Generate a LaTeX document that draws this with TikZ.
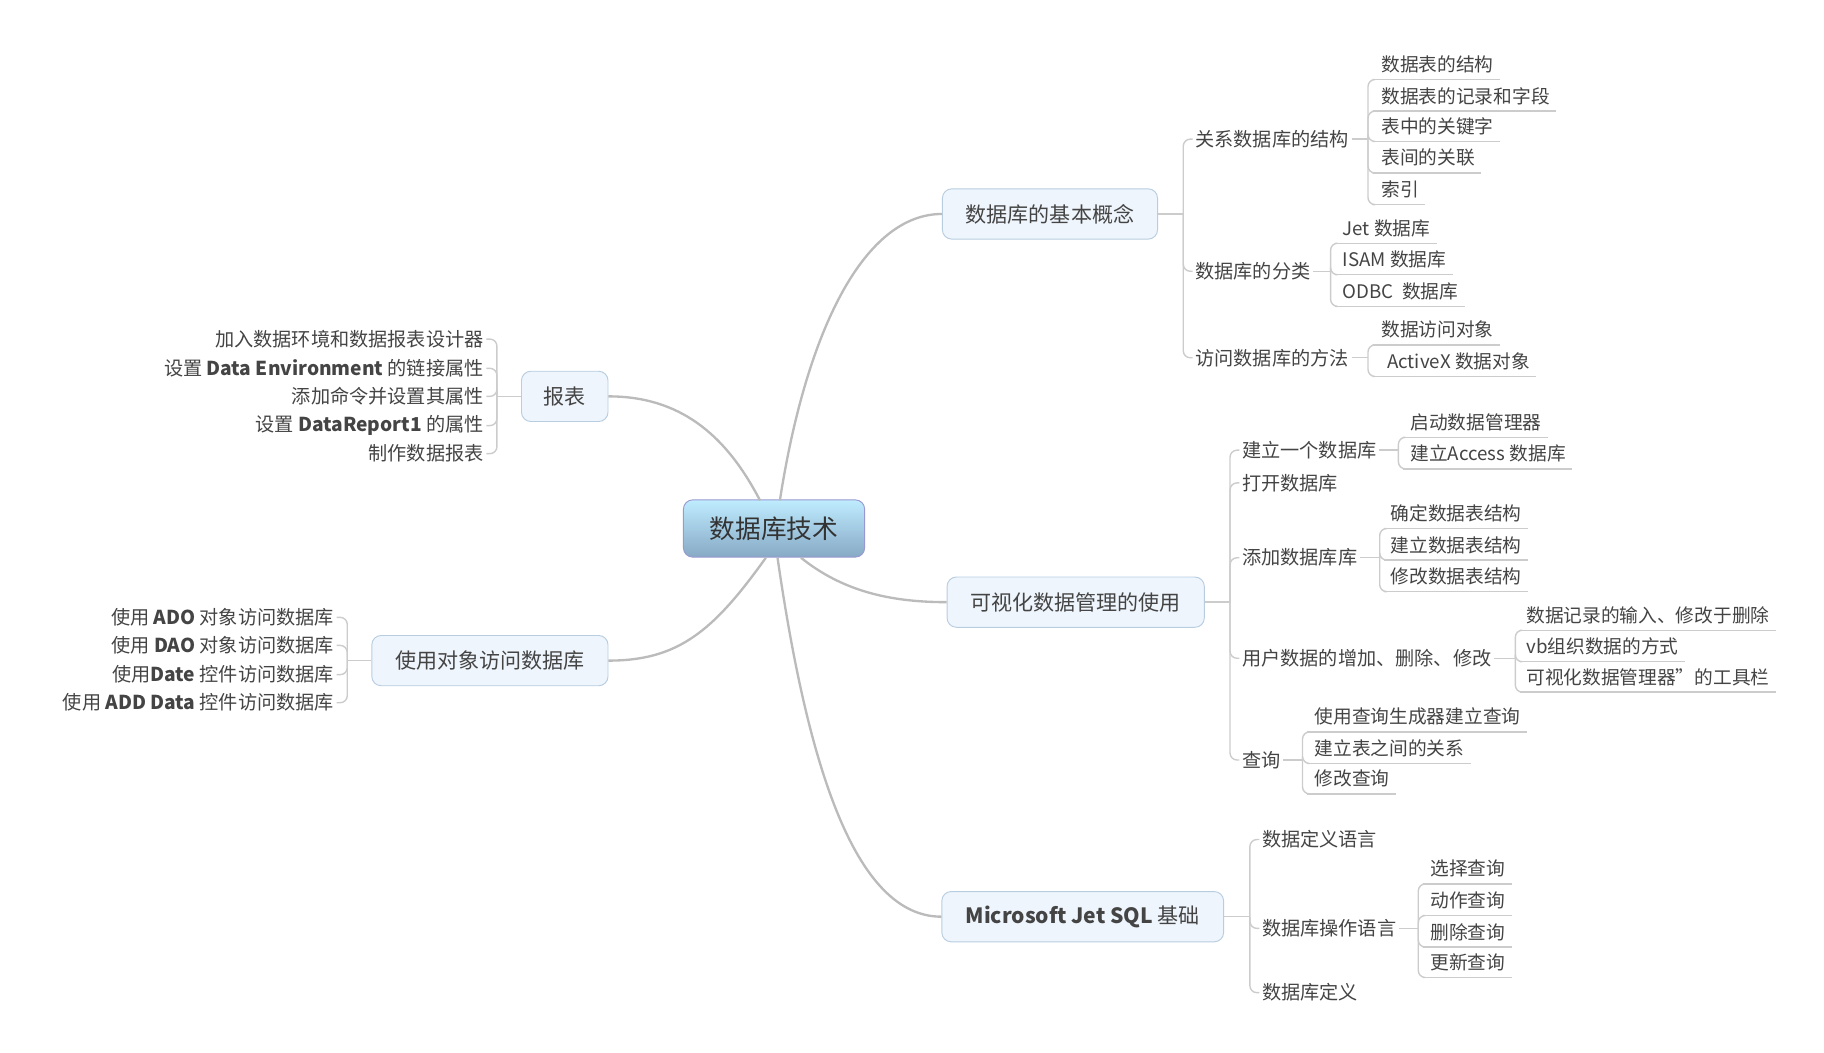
\documentclass[tikz,border=0pt]{standalone}
\usepackage{fontspec}
\setmainfont{Noto Sans CJK SC}
\usetikzlibrary{calc}
\definecolor{txt}{HTML}{444444}
\definecolor{bfill}{HTML}{EEF5FC}
\definecolor{bdraw}{HTML}{B8CDE0}
\definecolor{lnk}{HTML}{BBBBBB}
\definecolor{brc}{HTML}{CCCCCC}
\tikzset{
 leaf/.style={inner sep=0pt,text=txt,font=\fontsize{8}{9}\selectfont},
 sub/.style={inner sep=1pt,text=txt,font=\fontsize{8.2}{9}\selectfont},
 box/.style={draw=bdraw,fill=bfill,rounded corners=4pt,text=txt,font=\fontsize{9}{10}\selectfont,inner sep=0pt,minimum height=21.5pt},
 root/.style={draw=black!45!blue!40,rounded corners=4pt,top color=blue!30!cyan!25!white,bottom color=blue!45!cyan!35!gray!70,text=black!80,font=\fontsize{11}{12}\selectfont,inner sep=0pt,minimum height=24.5pt,minimum width=77.5pt},
 main/.style={draw=lnk,line width=1pt},
 br/.style={draw=brc,line width=0.6pt,rounded corners=3pt},
 ul/.style={draw=brc,line width=0.6pt},
}
\newcommand\mmleaf[6]{%
 \node[leaf,anchor=west] (#1) at (#2,#3) {#4};
 \coordinate (#1u) at (#5+4,#3+13);
 \draw[ul] (#1u) -- ($(#1u -| #1.east)+(5,0)$);
 \draw[br] (#5,#6) |- (#1u);}
\newcommand\mmsub[6]{%
 \node[sub,anchor=west] (#1) at (#2,#3) {#4};
 \draw[br] (#5,#6) |- (#1.west);}
\newcommand\mmsubL[6]{%
 \node[sub,anchor=east] (#1) at (#2,#3) {#4};
 \draw[br] (#5,#6) |- (#1.east);}
\begin{document}
\begin{tikzpicture}[x=0.5pt,y=-0.5pt]
\useasboundingbox (0,0) rectangle (1560,900);
\node[root] (c) at (662,452) {数据库技术};
\node[box,minimum width=92pt] (b1) at (898,183) {数据库的基本概念};
\node[box,minimum width=37pt] (b2) at (483,339) {报表};
\node[box,minimum width=110pt] (b3) at (920,515) {可视化数据管理的使用};
\node[box,minimum width=101pt] (b4) at (419,565) {使用对象访问数据库};
\node[box,minimum width=120.5pt] (b5) at (926,784) {\textbf{Microsoft Jet SQL} 基础};
\coordinate (c1) at (667,428); \coordinate (c2) at (650,428);
\coordinate (c3) at (685,477); \coordinate (c4) at (655,477); \coordinate (c5) at (665,477);
\draw[main] (c1) .. controls (690,280) and (740,183) .. (b1.west);
\draw[main] (c2) .. controls (620,370) and (580,339) .. (b2.east);
\draw[main] (c3) .. controls (720,505) and (760,515) .. (b3.west);
\draw[main] (c4) .. controls (610,540) and (580,565) .. (b4.east);
\draw[main] (c5) .. controls (690,650) and (730,784) .. (b5.west);
% group 1
\draw[br] (b1.east) -- (1012,183);
\mmsub{s11}{1020}{119}{关系数据库的结构}{1012}{183}
\mmsub{s12}{1020}{232}{数据库的分类}{1012}{183}
\mmsub{s13}{1020}{306}{访问数据库的方法}{1012}{183}
\draw[br] (s11.east) -- (1170,119);
\mmleaf{l111}{1181}{55}{数据表的结构}{1170}{119}
\mmleaf{l112}{1181}{82}{数据表的记录和字段}{1170}{119}
\mmleaf{l113}{1181}{108}{表中的关键字}{1170}{119}
\mmleaf{l114}{1181}{135}{表间的关联}{1170}{119}
\mmleaf{l115}{1181}{162}{索引}{1170}{119}
\draw[br] (s12.east) -- (1138,232);
\mmleaf{l121}{1148}{195}{Jet 数据库}{1138}{232}
\mmleaf{l122}{1148}{222}{ISAM 数据库}{1138}{232}
\mmleaf{l123}{1148}{249}{ODBC\ \ 数据库}{1138}{232}
\draw[br] (s13.east) -- (1170,306);
\mmleaf{l131}{1181}{282}{数据访问对象}{1170}{306}
\mmleaf{l132}{1186}{309}{ActiveX 数据对象}{1170}{306}
% group 3
\draw[br] (b3.east) -- (1052,515);
\mmsub{s31}{1060}{385}{建立一个数据库}{1052}{515}
\mmsub{s32}{1060}{413}{打开数据库}{1052}{515}
\mmsub{s33}{1060}{477}{添加数据库库}{1052}{515}
\mmsub{s34}{1060}{563}{用户数据的增加、删除、修改}{1052}{515}
\mmsub{s35}{1060}{650}{查询}{1052}{515}
\draw[br] (s31.east) -- (1196,385);
\mmleaf{l311}{1206}{361}{启动数据管理器}{1196}{385}
\mmleaf{l312}{1206}{388}{建立Access 数据库}{1196}{385}
\draw[br] (s33.east) -- (1180,477);
\mmleaf{l331}{1189}{439}{确定数据表结构}{1180}{477}
\mmleaf{l332}{1189}{466}{建立数据表结构}{1180}{477}
\mmleaf{l333}{1189}{493}{修改数据表结构}{1180}{477}
\draw[br] (s34.east) -- (1296,563);
\mmleaf{l341}{1305}{526}{数据记录的输入、修改于删除}{1296}{563}
\mmleaf{l342}{1305}{553}{vb组织数据的方式}{1296}{563}
\mmleaf{l343}{1305}{579}{可视化数据管理器"的工具栏}{1296}{563}
\draw[br] (s35.east) -- (1114,650);
\mmleaf{l351}{1124}{613}{使用查询生成器建立查询}{1114}{650}
\mmleaf{l352}{1124}{640}{建立表之间的关系}{1114}{650}
\mmleaf{l353}{1124}{666}{修改查询}{1114}{650}
% group 5
\draw[br] (b5.east) -- (1069,784);
\mmsub{s51}{1077}{718}{数据定义语言}{1069}{784}
\mmsub{s52}{1077}{794}{数据库操作语言}{1069}{784}
\mmsub{s53}{1077}{849}{数据库定义}{1069}{784}
\draw[br] (s52.east) -- (1213,794);
\mmleaf{l521}{1223}{743}{选择查询}{1213}{794}
\mmleaf{l522}{1223}{770}{动作查询}{1213}{794}
\mmleaf{l523}{1223}{797}{删除查询}{1213}{794}
\mmleaf{l524}{1223}{823}{更新查询}{1213}{794}
% group 2 (left)
\draw[br] (b2.west) -- (425,339);
\mmsubL{s21}{416}{290}{加入数据环境和数据报表设计器}{425}{339}
\mmsubL{s22}{416}{315}{设置 \textbf{Data Environment} 的链接属性}{425}{339}
\mmsubL{s23}{416}{339}{添加命令并设置其属性}{425}{339}
\mmsubL{s24}{416}{364}{设置 \textbf{DataReport1} 的属性}{425}{339}
\mmsubL{s25}{416}{388}{制作数据报表}{425}{339}
% group 4 (left)
\draw[br] (b4.west) -- (297,565);
\mmsubL{s41}{288}{528}{使用 \textbf{ADO} 对象访问数据库}{297}{565}
\mmsubL{s42}{288}{552}{使用 \textbf{DAO} 对象访问数据库}{297}{565}
\mmsubL{s43}{288}{577}{使用\textbf{Date} 控件访问数据库}{297}{565}
\mmsubL{s44}{288}{601}{使用 \textbf{ADD Data} 控件访问数据库}{297}{565}
\end{tikzpicture}
\end{document}
